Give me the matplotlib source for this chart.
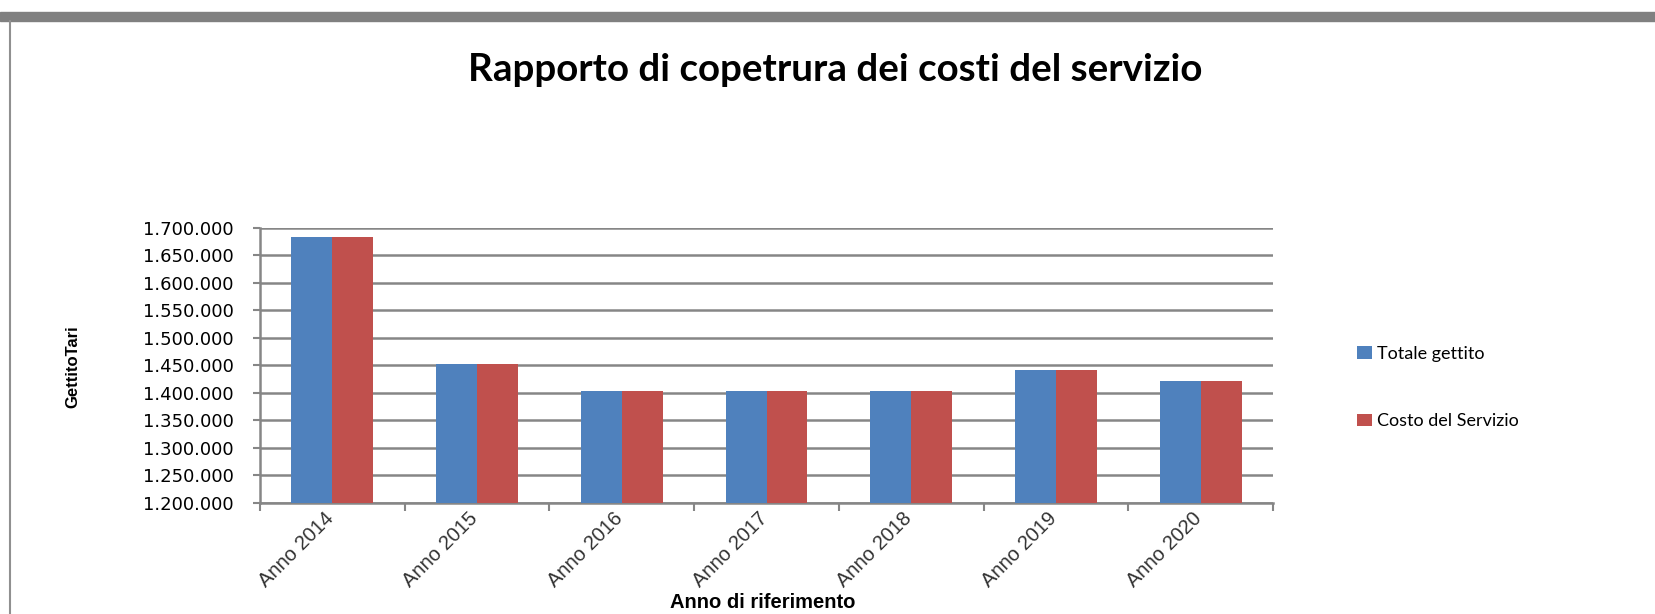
import numpy as np
import matplotlib.pyplot as plt
from matplotlib.ticker import FuncFormatter, MultipleLocator
from matplotlib.patches import Rectangle
from matplotlib.lines import Line2D

# data
anni = ["Anno 2014", "Anno 2015", "Anno 2016", "Anno 2017", "Anno 2018", "Anno 2019", "Anno 2020"]
totale_gettito = [1684000, 1453000, 1404000, 1404000, 1404000, 1442000, 1422000]
costo_servizio = [1684000, 1453000, 1404000, 1404000, 1404000, 1442000, 1422000]

blu = "#4F81BD"
rosso = "#C0504D"
grigio = "#868686"

fig = plt.figure(figsize=(16.55, 6.14), dpi=100)
ax = fig.add_axes([0.1571, 0.1808, 0.6121, 0.4479])

x = np.arange(len(anni))
w = 0.283
ax.bar(x - w / 2, totale_gettito, w, color=blu, label="Totale gettito", zorder=3)
ax.bar(x + w / 2, costo_servizio, w, color=rosso, label="Costo del Servizio", zorder=3)

ax.set_xlim(-0.5, len(anni) - 0.5)
ax.set_ylim(1200000, 1700000)
ax.yaxis.set_major_locator(MultipleLocator(50000))
ax.yaxis.set_major_formatter(FuncFormatter(lambda v, p: f"{v:,.0f}".replace(",", ".")))
ax.grid(axis="y", color=grigio, lw=1.8, zorder=0)

# labels sit a bit left of the group centre (invisible major ticks)
ax.set_xticks(x - 0.06)
ax.set_xticklabels(anni, rotation=45, ha="right", rotation_mode="anchor",
                   family="Liberation Sans", fontsize=14.5, color="#333333")
ax.set_xticks(np.arange(-0.5, len(anni)), minor=True)
ax.tick_params(axis="x", which="major", length=0, pad=4)
ax.tick_params(axis="x", which="minor", length=6, width=1.5, color=grigio)
ax.tick_params(axis="y", length=5, width=1.5, color=grigio, labelsize=13, pad=14)

for s in ["top", "right"]:
    ax.spines[s].set_visible(False)
for s in ["left", "bottom"]:
    ax.spines[s].set_color(grigio)
    ax.spines[s].set_linewidth(1.8)

ax.set_ylabel("GettitoTari", family="Liberation Sans", fontweight="bold", fontsize=12)
ax.yaxis.set_label_coords(-0.177, 0.4945)
ax.set_xlabel("Anno di riferimento", family="Liberation Sans", fontweight="bold", fontsize=14.5)
ax.xaxis.set_label_coords(0.4965, -0.327)

fig.text(0.5045, 0.886, "Rapporto di copetrura dei costi del servizio", ha="center", va="center",
         family="Lato", fontweight="bold", fontsize=27.7)

ax.legend(loc="upper left", bbox_to_anchor=(1.067, 0.63), frameon=False, prop={"family": "Lato", "size": 13},
          handlelength=0.8, handleheight=0.7, handletextpad=0.3, labelspacing=2.85)

# window frame bits seen in the screenshot
fig.patches.append(Rectangle((0.0, 1 - 21 / 614), 1.0, 9 / 614, transform=fig.transFigure,
                             color="#808080", zorder=0))
fig.lines.append(Line2D([10 / 1655, 10 / 1655], [0, 1 - 21 / 614], transform=fig.transFigure,
                        color="#909090", lw=1.5))

fig.savefig("out.png", dpi=100)
